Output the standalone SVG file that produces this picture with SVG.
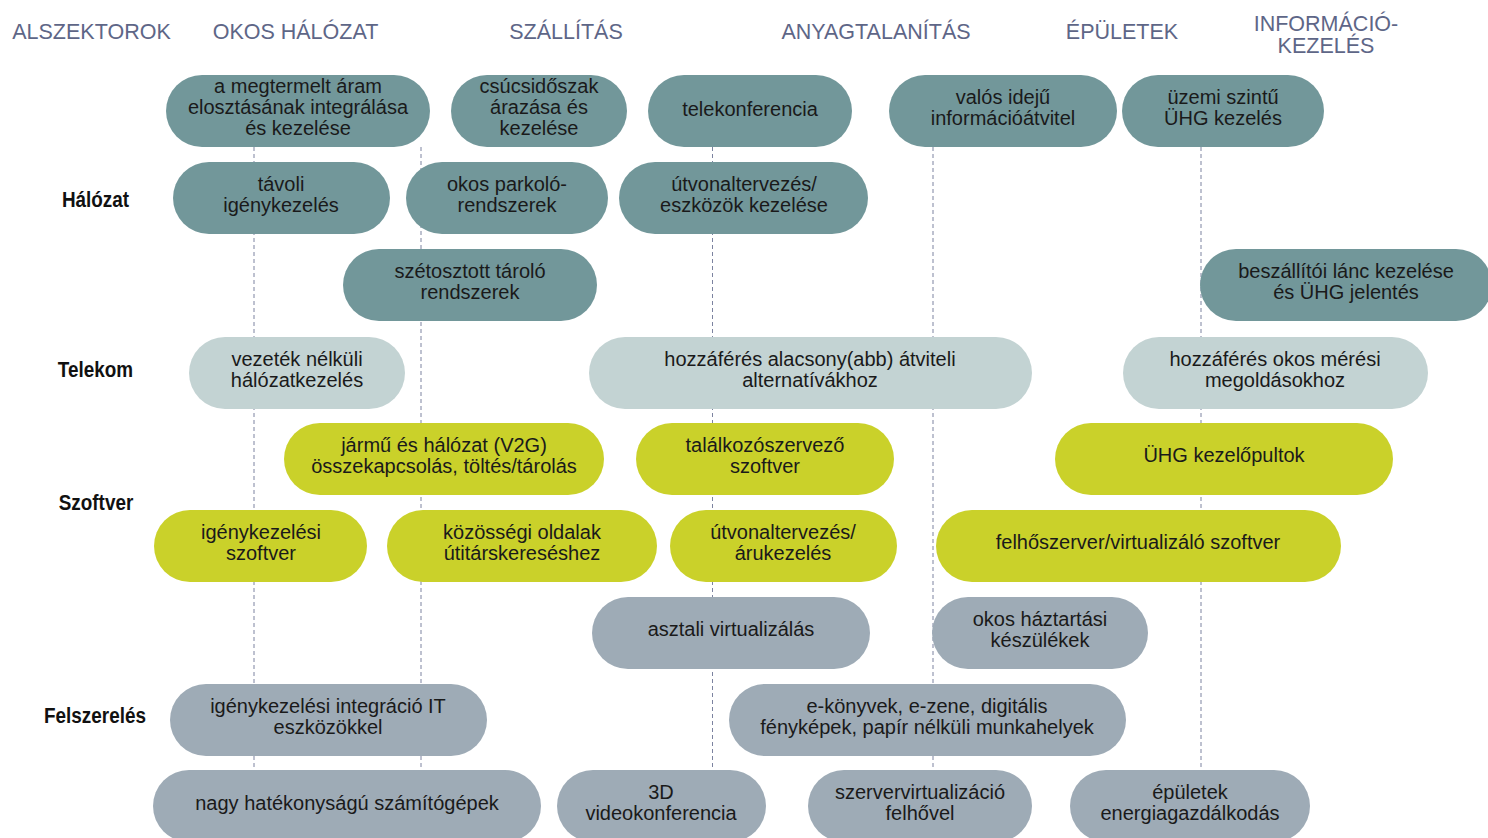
<svg xmlns="http://www.w3.org/2000/svg" width="1488" height="838" viewBox="0 0 1488 838">
<style>
.bg{fill:#ffffff}
.hd{font-family:"Liberation Sans",Arial,sans-serif;font-size:21.5px;fill:#5E6687;text-anchor:middle}
.rl{font-family:"Liberation Sans",Arial,sans-serif;font-size:22px;font-weight:bold;fill:#111111;text-anchor:middle}
.t{font-family:"Liberation Sans",Arial,sans-serif;font-size:20px;fill:#1a1a1a;text-anchor:middle}
.teal{fill:#72979A}
.lgray{fill:#C3D3D3}
.lime{fill:#CAD12A}
.slate{fill:#9EABB6}
.dash{stroke:#7C83A0;stroke-width:1;stroke-dasharray:4 3;fill:none}
</style>
<rect class="bg" x="0" y="0" width="1488" height="838"/>
<g id="headers">
<text class="hd" x="91.5" y="39">ALSZEKTOROK</text>
<text class="hd" x="295.5" y="39">OKOS HÁLÓZAT</text>
<text class="hd" x="566" y="39">SZÁLLÍTÁS</text>
<text class="hd" x="876" y="39">ANYAGTALANÍTÁS</text>
<text class="hd" x="1122" y="39">ÉPÜLETEK</text>
<text class="hd"><tspan x="1326" y="31">INFORMÁCIÓ-</tspan><tspan x="1326" y="52.5">KEZELÉS</tspan></text>
</g>
<g id="row-labels">
<text class="rl" transform="translate(95.5,207) scale(0.86,1)">Hálózat</text>
<text class="rl" transform="translate(95.5,377) scale(0.86,1)">Telekom</text>
<text class="rl" transform="translate(96,510) scale(0.86,1)">Szoftver</text>
<text class="rl" transform="translate(95,723) scale(0.86,1)">Felszerelés</text>
</g>
<g id="connectors">
<line class="dash" x1="254" y1="147" x2="254" y2="770"/>
<line class="dash" x1="421" y1="147" x2="421" y2="770"/>
<line class="dash" x1="712.5" y1="147" x2="712.5" y2="770"/>
<line class="dash" x1="933" y1="147" x2="933" y2="770"/>
<line class="dash" x1="1201" y1="147" x2="1201" y2="770"/>
</g>
<g id="n1"><rect class="teal" x="166" y="75" width="264" height="72" rx="36"/><text class="t"><tspan x="298" y="92.5">a megtermelt áram</tspan><tspan x="298" y="113.5">elosztásának integrálása</tspan><tspan x="298" y="134.5">és kezelése</tspan></text></g>
<g id="n2"><rect class="teal" x="451" y="75" width="176" height="72" rx="36"/><text class="t"><tspan x="539" y="92.5">csúcsidőszak</tspan><tspan x="539" y="113.5">árazása és</tspan><tspan x="539" y="134.5">kezelése</tspan></text></g>
<g id="n3"><rect class="teal" x="648" y="75" width="204" height="72" rx="36"/><text class="t" x="750" y="116">telekonferencia</text></g>
<g id="n4"><rect class="teal" x="889" y="75" width="228" height="72" rx="36"/><text class="t"><tspan x="1003" y="104">valós idejű</tspan><tspan x="1003" y="124.5">információátvitel</tspan></text></g>
<g id="n5"><rect class="teal" x="1122" y="75" width="202" height="72" rx="36"/><text class="t"><tspan x="1223" y="104">üzemi szintű</tspan><tspan x="1223" y="124.5">ÜHG kezelés</tspan></text></g>
<g id="n6"><rect class="teal" x="173" y="162" width="217" height="72" rx="36"/><text class="t"><tspan x="281" y="191">távoli</tspan><tspan x="281" y="211.5">igénykezelés</tspan></text></g>
<g id="n7"><rect class="teal" x="406" y="162" width="202" height="72" rx="36"/><text class="t"><tspan x="507" y="191">okos parkoló-</tspan><tspan x="507" y="211.5">rendszerek</tspan></text></g>
<g id="n8"><rect class="teal" x="619" y="162" width="249" height="72" rx="36"/><text class="t"><tspan x="744" y="191">útvonaltervezés/</tspan><tspan x="744" y="211.5">eszközök kezelése</tspan></text></g>
<g id="n9"><rect class="teal" x="343" y="249" width="254" height="72" rx="36"/><text class="t"><tspan x="470" y="278">szétosztott tároló</tspan><tspan x="470" y="298.5">rendszerek</tspan></text></g>
<g id="n10"><rect class="teal" x="1200" y="249" width="292" height="72" rx="36"/><text class="t"><tspan x="1346" y="278">beszállítói lánc kezelése</tspan><tspan x="1346" y="298.5">és ÜHG jelentés</tspan></text></g>
<g id="n11"><rect class="lgray" x="189" y="337" width="216" height="72" rx="36"/><text class="t"><tspan x="297" y="366">vezeték nélküli</tspan><tspan x="297" y="386.5">hálózatkezelés</tspan></text></g>
<g id="n12"><rect class="lgray" x="589" y="337" width="443" height="72" rx="36"/><text class="t"><tspan x="810" y="366">hozzáférés alacsony(abb) átviteli</tspan><tspan x="810" y="386.5">alternatívákhoz</tspan></text></g>
<g id="n13"><rect class="lgray" x="1123" y="337" width="305" height="72" rx="36"/><text class="t"><tspan x="1275" y="366">hozzáférés okos mérési</tspan><tspan x="1275" y="386.5">megoldásokhoz</tspan></text></g>
<g id="n14"><rect class="lime" x="284" y="423" width="320" height="72" rx="36"/><text class="t"><tspan x="444" y="452">jármű és hálózat (V2G)</tspan><tspan x="444" y="472.5">összekapcsolás, töltés/tárolás</tspan></text></g>
<g id="n15"><rect class="lime" x="636" y="423" width="258" height="72" rx="36"/><text class="t"><tspan x="765" y="452">találkozószervező</tspan><tspan x="765" y="472.5">szoftver</tspan></text></g>
<g id="n16"><rect class="lime" x="1055" y="423" width="338" height="72" rx="36"/><text class="t" x="1224" y="462">ÜHG kezelőpultok</text></g>
<g id="n17"><rect class="lime" x="154" y="510" width="213" height="72" rx="36"/><text class="t"><tspan x="261" y="539">igénykezelési</tspan><tspan x="261" y="559.5">szoftver</tspan></text></g>
<g id="n18"><rect class="lime" x="387" y="510" width="270" height="72" rx="36"/><text class="t"><tspan x="522" y="539">közösségi oldalak</tspan><tspan x="522" y="559.5">útitárskereséshez</tspan></text></g>
<g id="n19"><rect class="lime" x="670" y="510" width="227" height="72" rx="36"/><text class="t"><tspan x="783" y="539">útvonaltervezés/</tspan><tspan x="783" y="559.5">árukezelés</tspan></text></g>
<g id="n20"><rect class="lime" x="936" y="510" width="405" height="72" rx="36"/><text class="t" x="1138" y="549">felhőszerver/virtualizáló szoftver</text></g>
<g id="n21"><rect class="slate" x="592" y="597" width="278" height="72" rx="36"/><text class="t" x="731" y="636">asztali virtualizálás</text></g>
<g id="n22"><rect class="slate" x="932" y="597" width="216" height="72" rx="36"/><text class="t"><tspan x="1040" y="626">okos háztartási</tspan><tspan x="1040" y="646.5">készülékek</tspan></text></g>
<g id="n23"><rect class="slate" x="170" y="684" width="317" height="72" rx="36"/><text class="t"><tspan x="328" y="713">igénykezelési integráció IT</tspan><tspan x="328" y="733.5">eszközökkel</tspan></text></g>
<g id="n24"><rect class="slate" x="729" y="684" width="397" height="72" rx="36"/><text class="t"><tspan x="927" y="713">e-könyvek, e-zene, digitális</tspan><tspan x="927" y="733.5">fényképek, papír nélküli munkahelyek</tspan></text></g>
<g id="n25"><rect class="slate" x="153" y="770" width="388" height="72" rx="36"/><text class="t" x="347" y="810">nagy hatékonyságú számítógépek</text></g>
<g id="n26"><rect class="slate" x="557" y="770" width="209" height="72" rx="36"/><text class="t"><tspan x="661" y="799">3D</tspan><tspan x="661" y="819.5">videokonferencia</tspan></text></g>
<g id="n27"><rect class="slate" x="808" y="770" width="224" height="72" rx="36"/><text class="t"><tspan x="920" y="799">szervervirtualizáció</tspan><tspan x="920" y="819.5">felhővel</tspan></text></g>
<g id="n28"><rect class="slate" x="1070" y="770" width="240" height="72" rx="36"/><text class="t"><tspan x="1190" y="799">épületek</tspan><tspan x="1190" y="819.5">energiagazdálkodás</tspan></text></g>
</svg>
